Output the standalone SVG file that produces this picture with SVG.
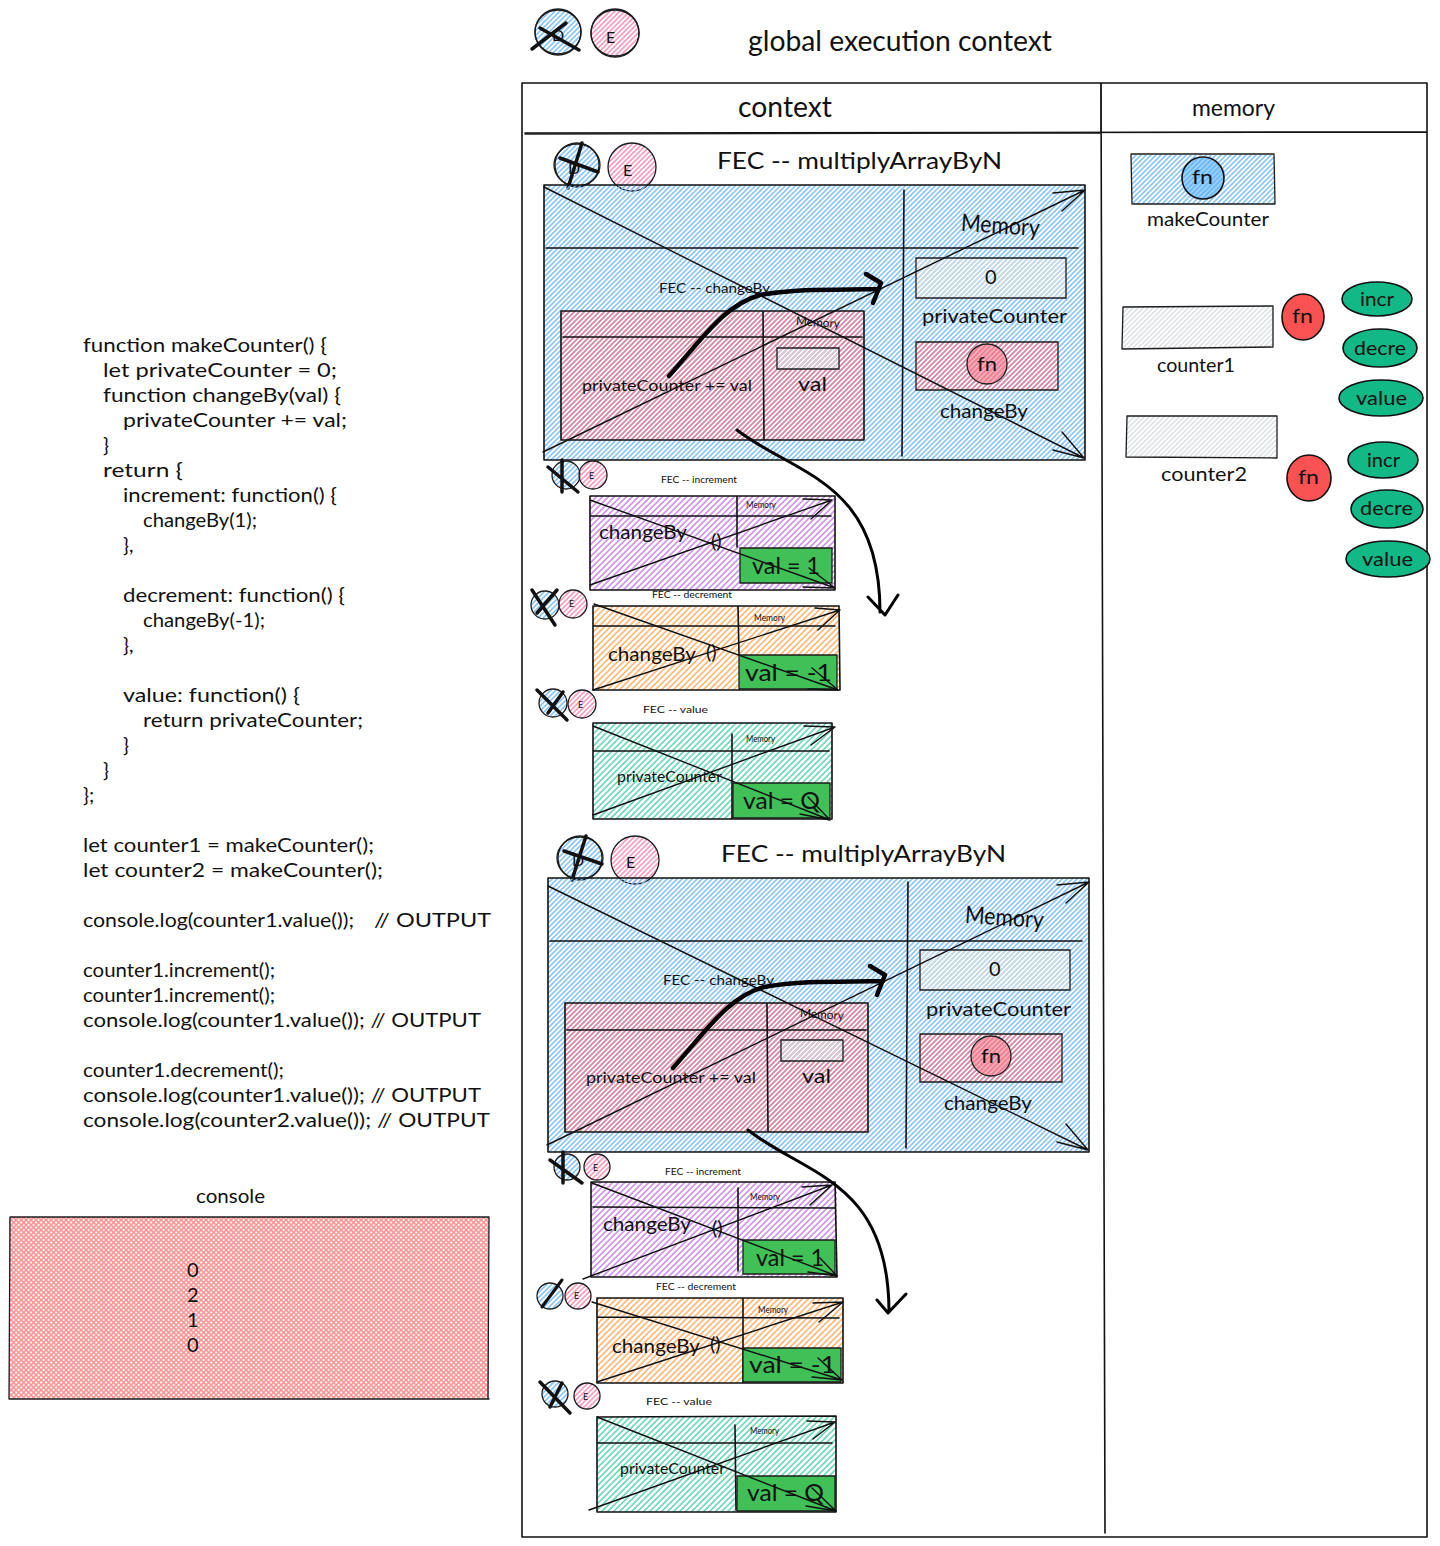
<svg xmlns="http://www.w3.org/2000/svg" width="1440" height="1546" viewBox="0 0 1440 1546">
<style>
text{font-family:"Lato","Open Sans","Liberation Sans",sans-serif;fill:#111;dominant-baseline:central;translate:0 -1px}
.s9{font-size:9px}.s10{font-size:10px}.s12{font-size:12px}.s14{font-size:14px}.s16{font-size:16px}.s20{font-size:20px}.s24{font-size:24px}.s28{font-size:28px}
.l{fill:none;stroke:#1c1c1c;stroke-width:1.3;stroke-linecap:round}
.m{fill:none;stroke:#111;stroke-width:1.6;stroke-linecap:round}
.x{fill:none;stroke:#111;stroke-width:3.5;stroke-linecap:round}
.a{fill:none;stroke:#111;stroke-width:1.4;stroke-linecap:round;stroke-linejoin:round}
.th{fill:none;stroke:#000;stroke-width:3;stroke-linecap:round;stroke-linejoin:round}
.th2{fill:none;stroke:#000;stroke-width:4.5;stroke-linecap:round;stroke-linejoin:round}
.g{fill:#40c057}.r{fill:#fa5252}
</style>
<defs>
<pattern id="hb" width="3.5355" height="3.5355" patternUnits="userSpaceOnUse" patternTransform="rotate(-45)"><rect width="3.5355" height="1.5" fill="#7cbdf6"/></pattern>
<pattern id="hp" width="3.5355" height="3.5355" patternUnits="userSpaceOnUse" patternTransform="rotate(-45)"><rect width="3.5355" height="1.5" fill="#ee7f90"/></pattern>
<pattern id="he" width="3.5355" height="3.5355" patternUnits="userSpaceOnUse" patternTransform="rotate(-45)"><rect width="3.5355" height="1.5" fill="#f78fb3"/></pattern>
<pattern id="hv" width="4.2426" height="4.2426" patternUnits="userSpaceOnUse" patternTransform="rotate(-45)"><rect width="4.2426" height="1.7" fill="#cf94ea"/></pattern>
<pattern id="ho" width="4.2426" height="4.2426" patternUnits="userSpaceOnUse" patternTransform="rotate(-45)"><rect width="4.2426" height="1.7" fill="#ffb877"/></pattern>
<pattern id="ht" width="4.2426" height="4.2426" patternUnits="userSpaceOnUse" patternTransform="rotate(-45)"><rect width="4.2426" height="1.7" fill="#6fd8b5"/></pattern>
<pattern id="hg" width="3.5355" height="3.5355" patternUnits="userSpaceOnUse" patternTransform="rotate(-45)"><rect width="3.5355" height="1.4" fill="#d8dde1"/></pattern>
<pattern id="hc" width="3.5355" height="3.5355" patternUnits="userSpaceOnUse" patternTransform="rotate(-45)"><rect width="3.5355" height="1.5" fill="#ff8f8f"/><rect width="1.5" height="3.5355" fill="#ff8f8f"/></pattern>
</defs>
<rect width="1440" height="1546" fill="#fff"/>

<g id="code">
<text class="s20" x="83" y="345" textLength="244" lengthAdjust="spacingAndGlyphs">function makeCounter() {</text>
<text class="s20" x="103" y="370" textLength="234" lengthAdjust="spacingAndGlyphs">let privateCounter = 0;</text>
<text class="s20" x="103" y="395" textLength="238" lengthAdjust="spacingAndGlyphs">function changeBy(val) {</text>
<text class="s20" x="123" y="420" textLength="224" lengthAdjust="spacingAndGlyphs">privateCounter += val;</text>
<text class="s20" x="103" y="445">}</text>
<text class="s20" x="103" y="470" textLength="80" lengthAdjust="spacingAndGlyphs">return {</text>
<text class="s20" x="123" y="495" textLength="214" lengthAdjust="spacingAndGlyphs">increment: function() {</text>
<text class="s20" x="143" y="520" textLength="114" lengthAdjust="spacingAndGlyphs">changeBy(1);</text>
<text class="s20" x="123" y="545">},</text>
<text class="s20" x="123" y="595" textLength="222" lengthAdjust="spacingAndGlyphs">decrement: function() {</text>
<text class="s20" x="143" y="620" textLength="122" lengthAdjust="spacingAndGlyphs">changeBy(-1);</text>
<text class="s20" x="123" y="645">},</text>
<text class="s20" x="123" y="695" textLength="177" lengthAdjust="spacingAndGlyphs">value: function() {</text>
<text class="s20" x="143" y="720" textLength="220" lengthAdjust="spacingAndGlyphs">return privateCounter;</text>
<text class="s20" x="123" y="745">}</text>
<text class="s20" x="103" y="770">}</text>
<text class="s20" x="83" y="795">};</text>
<text class="s20" x="83" y="845" textLength="291" lengthAdjust="spacingAndGlyphs">let counter1 = makeCounter();</text>
<text class="s20" x="83" y="870" textLength="300" lengthAdjust="spacingAndGlyphs">let counter2 = makeCounter();</text>
<text class="s20" x="83" y="920" textLength="271" lengthAdjust="spacingAndGlyphs">console.log(counter1.value());</text>
<text class="s20" x="374" y="920" textLength="117" lengthAdjust="spacingAndGlyphs">// OUTPUT</text>
<text class="s20" x="83" y="970" textLength="192" lengthAdjust="spacingAndGlyphs">counter1.increment();</text>
<text class="s20" x="83" y="995" textLength="192" lengthAdjust="spacingAndGlyphs">counter1.increment();</text>
<text class="s20" x="83" y="1020" textLength="398" lengthAdjust="spacingAndGlyphs">console.log(counter1.value()); // OUTPUT</text>
<text class="s20" x="83" y="1070" textLength="201" lengthAdjust="spacingAndGlyphs">counter1.decrement();</text>
<text class="s20" x="83" y="1095" textLength="398" lengthAdjust="spacingAndGlyphs">console.log(counter1.value()); // OUTPUT</text>
<text class="s20" x="83" y="1120" textLength="407" lengthAdjust="spacingAndGlyphs">console.log(counter2.value()); // OUTPUT</text>
</g>

<g id="console">
<text class="s20" x="196" y="1196" textLength="69" lengthAdjust="spacingAndGlyphs">console</text>
<rect x="9" y="1217" width="480" height="182" fill="url(#hc)"/>
<path class="l" d="M10 1217L489 1217M489 1217L488 1399M489 1399L9 1399M9 1399L10 1218"/>
<text class="s20" x="187" y="1270">0</text><text class="s20" x="187" y="1295">2</text><text class="s20" x="187" y="1320">1</text><text class="s20" x="187" y="1345">0</text>
</g>

<g id="global-title">
<text class="s28" x="748" y="41" textLength="304" lengthAdjust="spacingAndGlyphs">global execution context</text>
<circle cx="558" cy="32" r="23" fill="url(#hb)"/><ellipse class="l" cx="558" cy="32" rx="23" ry="22"/><circle class="l" cx="558" cy="32" r="23"/>
<text class="s16" x="552" y="35">D</text>
<path class="x" d="M566 23L532 49M540 28L579 50"/>
<circle cx="615" cy="33" r="24" fill="url(#he)"/><ellipse class="l" cx="615" cy="33" rx="24" ry="23"/><circle class="l" cx="615" cy="33" r="24"/>
<text class="s16" x="606" y="37">E</text>
</g>

<g id="table">
<path class="m" d="M522 83L1427 83M1427 83L1427 1537M1427 1537L522 1537M522 1537L522 83M525 133L1427 132M1101 83L1105 1533"/>
<path class="l" d="M1101 84L1101 133M525 134L1100 133"/>
<text class="s28" x="738" y="107" textLength="94" lengthAdjust="spacingAndGlyphs">context</text>
<text class="s24" x="1192" y="107" textLength="83" lengthAdjust="spacingAndGlyphs">memory</text>
</g>

<g id="memory-makeCounter">
<rect x="1132" y="155" width="142" height="49" fill="url(#hb)"/>
<path class="l" d="M1131 154L1274 154M1274 154L1275 204M1275 204L1133 204M1132 204L1131 155"/>
<circle cx="1203" cy="178" r="21" fill="#4dabf7" fill-opacity=".55"/><circle class="m" cx="1203" cy="178" r="21"/>
<text class="s20" x="1192" y="177" textLength="21" lengthAdjust="spacingAndGlyphs">fn</text>
<text class="s20" x="1147" y="219" textLength="122" lengthAdjust="spacingAndGlyphs">makeCounter</text>
</g>
<g id="memory-counter1">
<rect x="1123" y="307" width="150" height="41" fill="url(#hg)"/>
<path class="l" d="M1123 307L1273 306M1273 306L1273 347M1273 347L1122 349M1122 349L1123 307"/>
<text class="s20" x="1157" y="365" textLength="78" lengthAdjust="spacingAndGlyphs">counter1</text>
<ellipse class="r" cx="1303" cy="317" rx="21" ry="23"/><ellipse class="m" cx="1303" cy="317" rx="21" ry="23"/>
<text class="s20" x="1292" y="316" textLength="21" lengthAdjust="spacingAndGlyphs">fn</text>
<ellipse class="m" cx="1377" cy="299" rx="35" ry="17" style="fill:#12b886"/><text class="s20" x="1360" y="299" textLength="34" lengthAdjust="spacingAndGlyphs">incr</text>
<ellipse class="m" cx="1380" cy="348" rx="37" ry="19" style="fill:#12b886"/><text class="s20" x="1354" y="348" textLength="52" lengthAdjust="spacingAndGlyphs">decre</text>
<ellipse class="m" cx="1381" cy="398" rx="42" ry="18" style="fill:#12b886"/><text class="s20" x="1356" y="398" textLength="51" lengthAdjust="spacingAndGlyphs">value</text>
</g>
<g id="memory-counter2">
<rect x="1127" y="416" width="149" height="42" fill="url(#hg)"/>
<path class="l" d="M1127 416L1277 416M1277 416L1277 458M1277 458L1126 457M1126 457L1127 416"/>
<text class="s20" x="1161" y="474" textLength="86" lengthAdjust="spacingAndGlyphs">counter2</text>
<ellipse class="r" cx="1309" cy="478" rx="22" ry="23"/><ellipse class="m" cx="1309" cy="478" rx="22" ry="23"/>
<text class="s20" x="1298" y="477" textLength="21" lengthAdjust="spacingAndGlyphs">fn</text>
<ellipse class="m" cx="1383" cy="460" rx="35" ry="18" style="fill:#12b886"/><text class="s20" x="1367" y="460" textLength="33" lengthAdjust="spacingAndGlyphs">incr</text>
<ellipse class="m" cx="1387" cy="509" rx="36" ry="19" style="fill:#12b886"/><text class="s20" x="1360" y="508" textLength="53" lengthAdjust="spacingAndGlyphs">decre</text>
<ellipse class="m" cx="1388" cy="559" rx="42" ry="18" style="fill:#12b886"/><text class="s20" x="1362" y="559" textLength="51" lengthAdjust="spacingAndGlyphs">value</text>
</g>

<g id="fec-multiply-1">
<circle cx="577" cy="165" r="22" fill="url(#hb)"/><circle class="l" cx="577" cy="165" r="22"/><ellipse class="l" cx="577" cy="165" rx="23" ry="21"/>
<text class="s16" x="568" y="168">D</text>
<path class="x" d="M582 143L568 188M560 158L598 172"/>
<circle cx="632" cy="167" r="24" fill="url(#he)"/><circle class="l" cx="632" cy="167" r="24"/>
<text class="s16" x="623" y="170">E</text>
<text class="s24" x="717" y="160" textLength="285" lengthAdjust="spacingAndGlyphs">FEC -- multiplyArrayByN</text>
<rect x="544" y="185" width="541" height="275" fill="url(#hb)"/>
<path class="m" d="M544 185L1085 185M1085 185L1085 460M1085 460L544 460M544 460L544 185M546 248L1078 248M904 190L902 456"/>
<text class="s24" x="961" y="225" textLength="79" lengthAdjust="spacingAndGlyphs" transform="rotate(4 1000 225)">Memory</text>
<text class="s14" x="659" y="288" textLength="111" lengthAdjust="spacingAndGlyphs">FEC -- changeBy</text>
<rect x="561" y="311" width="303" height="129" fill="url(#hp)"/>
<path class="m" d="M561 311L864 311M864 311L864 440M864 440L561 440M561 440L561 311M563 337L862 337M763 312L764 440"/>
<text class="s12" x="796" y="323" textLength="44" lengthAdjust="spacingAndGlyphs" transform="rotate(4 818 323)">Memory</text>
<rect x="777" y="348" width="62" height="21" fill="url(#hg)"/>
<path class="l" d="M777 348L839 348L839 369L777 369Z"/>
<text class="s16" x="582" y="385" textLength="170" lengthAdjust="spacingAndGlyphs">privateCounter += val</text>
<text class="s20" x="798" y="384" textLength="29" lengthAdjust="spacingAndGlyphs">val</text>
<rect x="916" y="258" width="150" height="40" fill="url(#hg)"/>
<path class="l" d="M916 258L1066 258L1066 298L916 298Z"/>
<text class="s20" x="985" y="277">0</text>
<text class="s20" x="922" y="316" textLength="145" lengthAdjust="spacingAndGlyphs">privateCounter</text>
<rect x="916" y="342" width="142" height="48" fill="url(#hp)"/>
<path class="l" d="M916 342L1058 342L1058 390L916 390Z"/>
<circle cx="987" cy="364" r="20" fill="#fa7a8a" fill-opacity=".6"/><circle class="l" cx="987" cy="364" r="20"/>
<text class="s20" x="977" y="364" textLength="20" lengthAdjust="spacingAndGlyphs">fn</text>
<text class="s20" x="940" y="411" textLength="88" lengthAdjust="spacingAndGlyphs">changeBy</text>
</g>

<g id="fec-increment-1">
<circle cx="566" cy="475" r="14" fill="url(#hb)"/><circle class="l" cx="566" cy="475" r="14"/>
<path class="x" d="M548 467L578 492M562 460L562 492"/>
<circle cx="593" cy="475" r="14" fill="url(#he)"/><circle class="l" cx="593" cy="475" r="14"/>
<text class="s9" x="589" y="476">E</text>
<text class="s9" x="661" y="480" textLength="76" lengthAdjust="spacingAndGlyphs">FEC -- increment</text>
<rect x="590" y="496" width="245" height="94" fill="url(#hv)"/>
<path class="m" d="M590 496L835 496M835 496L835 590M835 590L590 590M590 590L590 496M590 516L831 516M737 496L737 547"/>
<rect class="g" x="740" y="548" width="92" height="35"/>
<path class="l" d="M740 548L832 548L832 583L740 583Z"/>
<text class="s10" x="746" y="505" textLength="30" lengthAdjust="spacingAndGlyphs">Memory</text>
<text class="s20" x="599" y="532" textLength="88" lengthAdjust="spacingAndGlyphs">changeBy</text>
<text class="s20" x="711" y="541">()</text>
<text class="s24" x="752" y="565" textLength="68" lengthAdjust="spacingAndGlyphs">val = 1</text>
</g>

<g id="fec-decrement-1">
<circle cx="545" cy="605" r="14" fill="url(#hb)"/><circle class="l" cx="545" cy="605" r="14"/>
<path class="x" d="M532 590L555 625M557 590L537 613"/>
<circle cx="573" cy="604" r="14" fill="url(#he)"/><circle class="l" cx="573" cy="604" r="14"/>
<text class="s9" x="569" y="604">E</text>
<text class="s9" x="652" y="595" textLength="80" lengthAdjust="spacingAndGlyphs">FEC -- decrement</text>
<rect x="593" y="606" width="246" height="84" fill="url(#ho)"/>
<path class="m" d="M593 606L839 606M839 606L840 690M840 690L593 690M593 690L593 606M593 626L835 626M738 606L739 655"/>
<rect class="g" x="739" y="655" width="98" height="34"/>
<path class="l" d="M739 655L837 655L837 689L739 689Z"/>
<text class="s10" x="754" y="618" textLength="31" lengthAdjust="spacingAndGlyphs">Memory</text>
<text class="s20" x="608" y="654" textLength="88" lengthAdjust="spacingAndGlyphs">changeBy</text>
<text class="s20" x="706" y="652">()</text>
<text class="s24" x="745" y="672" textLength="87" lengthAdjust="spacingAndGlyphs">val = -1</text>
</g>

<g id="fec-value-1">
<circle cx="553" cy="703" r="14" fill="url(#hb)"/><circle class="l" cx="553" cy="703" r="14"/>
<path class="x" d="M537 690L567 720M563 692L548 713"/>
<circle cx="582" cy="704" r="14" fill="url(#he)"/><circle class="l" cx="582" cy="704" r="14"/>
<text class="s9" x="578" y="705">E</text>
<text class="s9" x="643" y="710" textLength="65" lengthAdjust="spacingAndGlyphs">FEC -- value</text>
<rect x="593" y="723" width="239" height="96" fill="url(#ht)"/>
<path class="m" d="M593 723L832 723M832 723L832 819M832 819L593 819M593 819L593 723M593 751L829 751M732 734L732 819"/>
<rect class="g" x="733" y="783" width="97" height="35"/>
<path class="l" d="M733 783L830 783L830 818L733 818Z"/>
<text class="s10" x="746" y="739" textLength="29" lengthAdjust="spacingAndGlyphs">Memory</text>
<text class="s16" x="617" y="776" textLength="105" lengthAdjust="spacingAndGlyphs">privateCounter</text>
<text class="s24" x="743" y="800" textLength="77" lengthAdjust="spacingAndGlyphs">val = Q</text>
</g>

<g id="fec-multiply-2">
<circle cx="580" cy="858" r="22" fill="url(#hb)"/><circle class="l" cx="580" cy="858" r="22"/><ellipse class="l" cx="580" cy="858" rx="23" ry="21"/>
<text class="s16" x="572" y="860">D</text>
<path class="x" d="M586 836L572 880M564 851L602 864"/>
<circle cx="635" cy="860" r="24" fill="url(#he)"/><circle class="l" cx="635" cy="860" r="24"/>
<text class="s16" x="626" y="862">E</text>
<text class="s24" x="721" y="853" textLength="285" lengthAdjust="spacingAndGlyphs">FEC -- multiplyArrayByN</text>
<rect x="548" y="878" width="541" height="274" fill="url(#hb)"/>
<path class="m" d="M548 878L1089 878M1089 878L1089 1152M1089 1152L548 1152M548 1152L548 878M550 941L1082 941M908 882L906 1148"/>
<text class="s24" x="965" y="917" textLength="79" lengthAdjust="spacingAndGlyphs" transform="rotate(4 1004 917)">Memory</text>
<text class="s14" x="663" y="980" textLength="111" lengthAdjust="spacingAndGlyphs">FEC -- changeBy</text>
<rect x="565" y="1003" width="303" height="129" fill="url(#hp)"/>
<path class="m" d="M565 1003L868 1003M868 1003L868 1132M868 1132L565 1132M565 1132L565 1003M567 1030L866 1030M767 1004L768 1132"/>
<text class="s12" x="800" y="1015" textLength="44" lengthAdjust="spacingAndGlyphs" transform="rotate(4 822 1015)">Memory</text>
<rect x="781" y="1040" width="62" height="21" fill="url(#hg)"/>
<path class="l" d="M781 1040L843 1040L843 1061L781 1061Z"/>
<text class="s16" x="586" y="1077" textLength="170" lengthAdjust="spacingAndGlyphs">privateCounter += val</text>
<text class="s20" x="802" y="1076" textLength="29" lengthAdjust="spacingAndGlyphs">val</text>
<rect x="920" y="950" width="150" height="40" fill="url(#hg)"/>
<path class="l" d="M920 950L1070 950L1070 990L920 990Z"/>
<text class="s20" x="989" y="969">0</text>
<text class="s20" x="926" y="1009" textLength="145" lengthAdjust="spacingAndGlyphs">privateCounter</text>
<rect x="920" y="1034" width="142" height="48" fill="url(#hp)"/>
<path class="l" d="M920 1034L1062 1034L1062 1082L920 1082Z"/>
<circle cx="991" cy="1056" r="20" fill="#fa7a8a" fill-opacity=".6"/><circle class="l" cx="991" cy="1056" r="20"/>
<text class="s20" x="981" y="1056" textLength="20" lengthAdjust="spacingAndGlyphs">fn</text>
<text class="s20" x="944" y="1103" textLength="88" lengthAdjust="spacingAndGlyphs">changeBy</text>
</g>

<g id="fec-increment-2">
<circle cx="567" cy="1167" r="13" fill="url(#hb)"/><circle class="l" cx="567" cy="1167" r="13"/>
<path class="x" d="M550 1160L582 1183M563 1152L563 1183"/>
<circle cx="597" cy="1167" r="13" fill="url(#he)"/><circle class="l" cx="597" cy="1167" r="13"/>
<text class="s9" x="593" y="1168">E</text>
<text class="s9" x="665" y="1172" textLength="76" lengthAdjust="spacingAndGlyphs">FEC -- increment</text>
<rect x="591" y="1182" width="246" height="95" fill="url(#hv)"/>
<path class="m" d="M591 1182L835 1182M835 1182L837 1277M837 1277L591 1277M591 1277L591 1182M593 1207L835 1208M738 1188L738 1271"/>
<rect class="g" x="743" y="1240" width="92" height="34"/>
<path class="l" d="M743 1240L835 1240L835 1274L743 1274Z"/>
<text class="s10" x="750" y="1197" textLength="30" lengthAdjust="spacingAndGlyphs">Memory</text>
<text class="s20" x="603" y="1224" textLength="88" lengthAdjust="spacingAndGlyphs">changeBy</text>
<text class="s20" x="712" y="1228">()</text>
<text class="s24" x="756" y="1257" textLength="68" lengthAdjust="spacingAndGlyphs">val = 1</text>
</g>

<g id="fec-decrement-2">
<circle cx="550" cy="1296" r="13" fill="url(#hb)"/><circle class="l" cx="550" cy="1296" r="13"/>
<path class="m" d="M562 1280L542 1307" style="stroke-width:3"/>
<circle cx="578" cy="1296" r="13" fill="url(#he)"/><circle class="l" cx="578" cy="1296" r="13"/>
<text class="s9" x="574" y="1296">E</text>
<text class="s9" x="656" y="1287" textLength="80" lengthAdjust="spacingAndGlyphs">FEC -- decrement</text>
<rect x="597" y="1298" width="246" height="85" fill="url(#ho)"/>
<path class="m" d="M597 1298L843 1298M843 1298L843 1383M843 1383L597 1383M597 1383L597 1298M597 1317L839 1318M743 1298L743 1383"/>
<rect class="g" x="743" y="1348" width="98" height="34"/>
<path class="l" d="M743 1348L841 1348L841 1382L743 1382Z"/>
<text class="s10" x="758" y="1310" textLength="30" lengthAdjust="spacingAndGlyphs">Memory</text>
<text class="s20" x="612" y="1346" textLength="88" lengthAdjust="spacingAndGlyphs">changeBy</text>
<text class="s20" x="710" y="1344">()</text>
<text class="s24" x="749" y="1364" textLength="87" lengthAdjust="spacingAndGlyphs">val = -1</text>
</g>

<g id="fec-value-2">
<circle cx="555" cy="1394" r="13" fill="url(#hb)"/><circle class="l" cx="555" cy="1394" r="13"/>
<path class="x" d="M540 1382L570 1413M562 1383L550 1407"/>
<circle cx="587" cy="1396" r="13" fill="url(#he)"/><circle class="l" cx="587" cy="1396" r="13"/>
<text class="s9" x="583" y="1397">E</text>
<text class="s9" x="646" y="1402" textLength="66" lengthAdjust="spacingAndGlyphs">FEC -- value</text>
<rect x="597" y="1417" width="239" height="95" fill="url(#ht)"/>
<path class="m" d="M597 1417L836 1416M836 1416L836 1512M836 1512L597 1512M597 1512L597 1417M597 1443L832 1443M735 1425L736 1510"/>
<rect class="g" x="737" y="1476" width="98" height="35"/>
<path class="l" d="M737 1476L835 1476L835 1511L737 1511Z"/>
<text class="s10" x="750" y="1431" textLength="29" lengthAdjust="spacingAndGlyphs">Memory</text>
<text class="s16" x="620" y="1468" textLength="105" lengthAdjust="spacingAndGlyphs">privateCounter</text>
<text class="s24" x="747" y="1492" textLength="77" lengthAdjust="spacingAndGlyphs">val = Q</text>
</g>

<g id="connectors">
<path class="a" d="M544 187L1084 458M1062 432L1084 458L1053 450M543 452L1085 190M1053 193L1085 190L1062 211"/>
<path class="a" d="M590 500L835 588M809 568L835 588L803 587M590 585L832 500M803 499L832 500L811 519"/>
<path class="a" d="M594 604L838 690M812 668L838 690L808 689M593 690L840 610M815 608L840 610L818 630"/>
<path class="a" d="M593 726L830 820M808 797L830 820L800 814M593 815L835 727M804 726L835 727L811 745"/>
<path class="a" d="M548 886L1088 1150M1066 1124L1088 1150L1057 1142M547 1145L1089 882M1057 885L1089 882L1066 903"/>
<path class="a" d="M592 1183L837 1276M820 1258L837 1276L808 1272M583 1279L832 1185M802 1187L832 1185L810 1205"/>
<path class="a" d="M592 1302L842 1380M818 1358L842 1380L812 1377M597 1382L843 1302M813 1303L843 1302L819 1322"/>
<path class="a" d="M597 1417L836 1511M812 1488L836 1511L806 1506M589 1510L835 1422M807 1421L835 1422L813 1439"/>
<path class="th2" d="M669 376C705 335 725 305 760 295C800 288 840 290 879 289M866 274L881 283L873 303"/>
<path class="th" d="M737 430C795 475 880 480 880 612M868 597L885 615L898 595"/>
<path class="th2" d="M673 1068C709 1027 729 997 764 987C804 980 844 982 883 981M870 966L885 975L877 995"/>
<path class="th" d="M748 1130C805 1175 888 1180 889 1310M877 1300L888 1313L906 1294"/>
</g>
</svg>
